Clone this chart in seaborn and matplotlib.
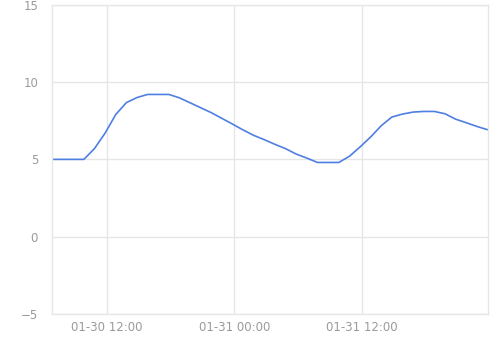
import matplotlib
matplotlib.use("Agg")
import matplotlib.pyplot as plt
import matplotlib.dates as mdates
import pandas as pd
import seaborn as sns

# Data: hourly readings starting 01-30 06:50
start_time = "2024-01-30 06:50"
n_points = 42
values = [5.0, 5.0, 5.0, 5.0, 5.7, 6.7, 7.9, 8.67, 9.0, 9.2,
          9.2, 9.2, 8.98, 8.66, 8.34, 8.02, 7.65, 7.28, 6.9, 6.55,
          6.27, 5.97, 5.69, 5.34, 5.08, 4.8, 4.8, 4.8, 5.2, 5.8,
          6.45, 7.18, 7.74, 7.93, 8.06, 8.1, 8.1, 7.95, 7.6, 7.37,
          7.13, 6.92]
y_ticks = [-5, 0, 5, 10, 15]

times = pd.date_range(start_time, periods=n_points, freq="h")
df = pd.DataFrame({"time": times, "value": values})

sns.set_style("white")
fig = plt.figure(figsize=(5.0, 3.42), dpi=100)
ax = fig.add_axes([0.104, 0.082, 0.871, 0.904])

sns.lineplot(data=df, x="time", y="value", ax=ax, color="#4f7fe2", linewidth=1.2)

grid_c = "#e6e6e6"
ax.set_ylim(-5, 15)
ax.set_yticks(y_ticks)
ax.set_xlim(times[0], times[-1])
ax.xaxis.set_major_locator(mdates.HourLocator(byhour=[0, 12]))
ax.xaxis.set_major_formatter(mdates.DateFormatter("%m-%d %H:%M"))
ax.grid(True, color=grid_c, linewidth=1.0)
for s in ax.spines.values():
    s.set_color(grid_c)
    s.set_linewidth(1.0)
ax.tick_params(axis="both", length=0, labelcolor="#9a9a9a", labelsize=8.5)
ax.tick_params(axis="y", pad=10)
ax.tick_params(axis="x", pad=5)
ax.set_xlabel("")
ax.set_ylabel("")

fig.savefig("out.png", dpi=100)
